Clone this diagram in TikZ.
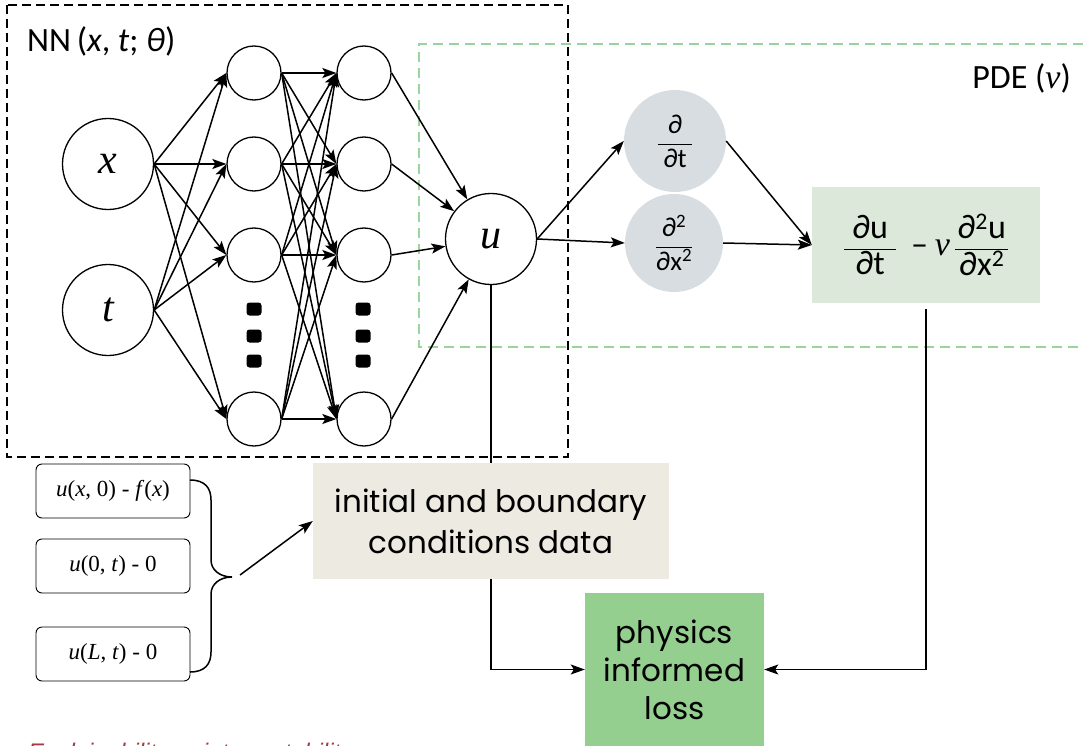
\documentclass[tikz,border=0pt]{standalone}
\usepackage{fontspec}
\setmainfont{Liberation Serif}
\newfontfamily\calfont{Carlito}
\newfontfamily\gothfont{Poppins}
\newfontfamily\arialfont{Liberation Sans}
\usetikzlibrary{arrows.meta}

\definecolor{pdegreen}{HTML}{9BD49B}
\definecolor{opfill}{HTML}{D7DDE1}
\definecolor{pdefill}{HTML}{DCE8DA}
\definecolor{ibcfill}{HTML}{EDEBE1}
\definecolor{lossfill}{HTML}{94CF8F}
\definecolor{notered}{HTML}{A33A45}

% fraction with a padded bar
\newcommand{\padfrac}[3]{\frac{\hbox{\hspace{#1}#2\hspace{#1}}}{\hbox{#3}}}

\begin{document}
\begin{tikzpicture}[x=1pt,y=-1pt,
  neuron/.style={circle, draw, line width=1.3pt, minimum size=54pt, inner sep=0pt, fill=white},
  bignode/.style={neuron, minimum size=91pt, font=\fontsize{42}{42}\selectfont\itshape},
  arr/.style={-{Stealth[length=14pt,width=10pt,inset=3pt]}, line width=1.5pt},
  plain/.style={line width=1.5pt},
  dotmark/.style={fill=black, rounded corners=3pt, minimum width=15pt, minimum height=13pt, inner sep=0pt},
  opnode/.style={circle, fill=opfill, inner sep=0pt, font=\calfont\fontsize{27}{27}\selectfont},
  condbox/.style={draw, line width=0.9pt, rounded corners=6pt, fill=white, minimum width=154pt, minimum height=54pt, inner sep=0pt, font=\fontsize{23}{23}\selectfont},
  nnframe/.style={dash pattern=on 9pt off 5pt, line width=1.5pt},
  pdeframe/.style={draw=pdegreen, dash pattern=on 10pt off 6pt, line width=1.5pt}
]
\useasboundingbox (0,0) rectangle (1083,746);

% frames
\draw[pdeframe] (1083,44) -- (419,44) -- (419,347) -- (1083,347);
\draw[nnframe] (7,5) rectangle (568,457);
\node[anchor=west, inner sep=0pt, font=\calfont\fontsize{34}{34}\selectfont] (nnlabel) at (27,41) {NN\,(\textit{x}, \textit{t}; \textit{θ})};
\node[anchor=east, inner sep=0pt, font=\calfont\fontsize{34}{34}\selectfont] (pdelabel) at (1071,78) {PDE (\textit{\rmfamily ν})};

% network
\node[bignode] (in1) at (108,164) {x};
\node[bignode] (in2) at (108,310) {t};
\foreach \k/\y in {1/73,2/164,3/255,4/419} {
  \node[neuron] (h1\k) at (254,\y) {};
  \node[neuron] (h2\k) at (364,\y) {};
}
\foreach \j/\y in {1/309,2/336,3/361} {
  \node[dotmark] (da\j) at (254,\y) {};
  \node[dotmark] (db\j) at (363,\y) {};
}
\node[bignode] (u) at (491,239) {u};

\foreach \i in {1,2} \foreach \k in {1,...,4} \draw[arr] (in\i.east) -- (h1\k.west);
\foreach \i in {1,...,4} \foreach \k in {1,...,4} \draw[arr] (h1\i.east) -- (h2\k.west);
\foreach \i in {1,...,4} \draw[arr] (h2\i.east) -- (u);

% differential operators and residual
\node[opnode, minimum size=102pt] (d1) at (675,141) {$\displaystyle\padfrac{10pt}{∂}{∂t}$};
\node[opnode, minimum size=98pt] (d2) at (674,243) {$\displaystyle\padfrac{5pt}{∂\textsuperscript{2}}{∂x\textsuperscript{2}}$};
\node[fill=pdefill, minimum width=228pt, minimum height=116pt, inner sep=0pt, font=\calfont\fontsize{34}{34}\selectfont] (pde) at (926,245)
  {$\displaystyle\padfrac{8pt}{∂u}{∂t}\;\;\hbox{–}\;\hbox{\rmfamily\itshape ν}\,\padfrac{2pt}{∂\textsuperscript{2}u}{∂x\textsuperscript{2}}$};

\draw[arr] (u.east) -- (d1.west);
\draw[arr] (u.east) -- (d2.west);
\draw[arr] (d1.east) -- (pde.west);
\draw[arr] (d2.east) -- (pde.west);

% data and loss
\node[fill=ibcfill, minimum width=356pt, minimum height=116pt, inner sep=0pt, align=center, font=\gothfont\fontsize{31}{41}\selectfont] (ibc) at (491,521) {initial and boundary\\conditions data};
\node[fill=lossfill, minimum width=179pt, minimum height=153pt, inner sep=0pt, align=center, font=\gothfont\fontsize{31}{38}\selectfont] (phys) at (674.5,669.5) {physics\\informed\\loss};

\node[condbox] (c1) at (113,491) {\textit{u}(\textit{x}, 0) - \textit{f}(\textit{x})};
\node[condbox] (c2) at (113,566) {\textit{u}(0, \textit{t}) - 0};
\node[condbox] (c3) at (113,654) {\textit{u}(\textit{L}, \textit{t}) - 0};

% brace grouping the conditions
\draw[plain] (190,480) .. controls (205,480) and (211,488) .. (211,500) -- (211,560)
  .. controls (211,570) and (220,577) .. (232,577)
  .. controls (220,577) and (211,584) .. (211,594) -- (211,652)
  .. controls (211,664) and (205,672) .. (190,672);
\coordinate (bfrom) at (240,575);
\draw[arr] (bfrom) -- (ibc.west);

\draw[plain] (u.south) -- (ibc.north);
\draw[arr] (ibc.south) |- (phys.west);
\draw[arr, shorten <=6pt] (pde.south) |- (phys.east);

% caption line running off the lower edge
\begin{scope}
\clip (0,0) rectangle (1083,746);
\node[anchor=base west, inner sep=0pt, text=notered, font=\arialfont\itshape\fontsize{24}{24}\selectfont] (note) at (28,760) {Explainability or interpretability};
\end{scope}
\end{tikzpicture}
\end{document}
